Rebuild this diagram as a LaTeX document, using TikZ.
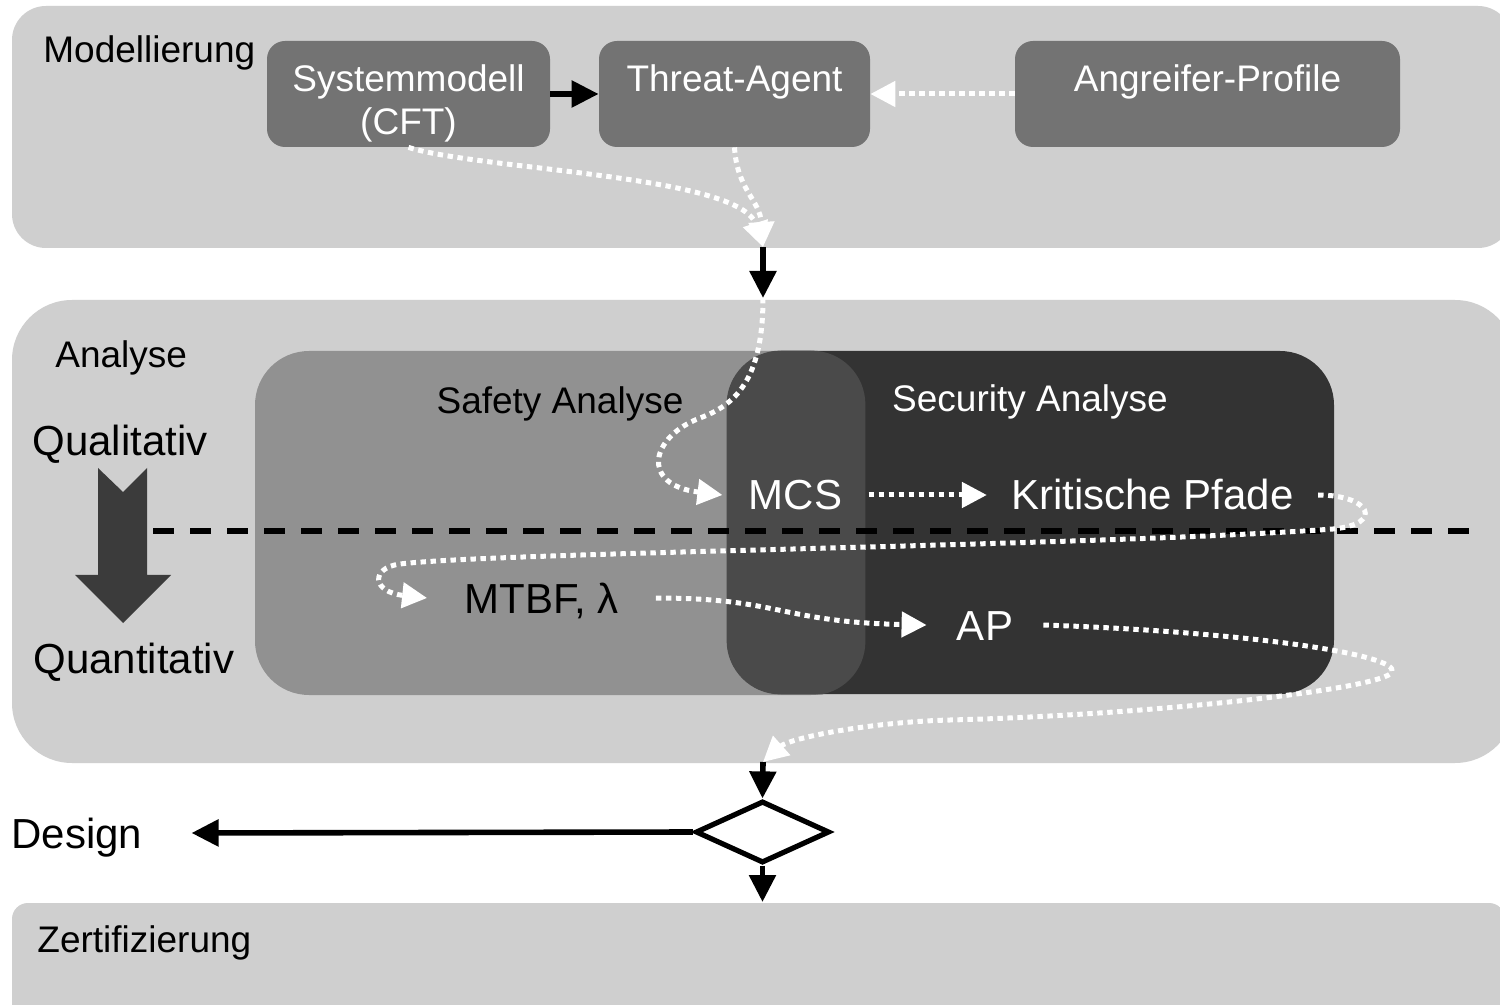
\documentclass[tikz,border=0pt]{standalone}
\usepackage{fontspec}
\setmainfont{Liberation Sans}
\usetikzlibrary{arrows.meta,shapes.geometric}
\definecolor{bandgray}{RGB}{207,207,207}
\definecolor{boxgray}{RGB}{115,115,115}
\definecolor{safegray}{RGB}{145,145,145}
\definecolor{secgray}{RGB}{51,51,51}
\definecolor{overgray}{RGB}{74,74,74}
\definecolor{arrowgray}{RGB}{59,59,59}
\begin{document}
\begin{tikzpicture}[x=0.5pt,y=-0.5pt,
  band/.style={fill=bandgray, draw=none, rectangle, inner sep=0pt},
  topbox/.style={fill=boxgray, draw=none, rectangle, rounded corners=9pt, inner sep=0pt, minimum height=53pt},
  anbox/.style={draw=none, rectangle, rounded corners=27pt, inner sep=0pt},
  normf/.style={font=\fontsize{18.5pt}{22pt}\selectfont, inner sep=0pt},
  bigf/.style={font=\fontsize{21pt}{25pt}\selectfont, inner ysep=0pt, inner xsep=0pt, text height=15pt, text depth=0pt},
  barrow/.style={draw=black, line width=2.8pt, -{Triangle[length=13.5pt,width=13pt]}},
  wdot/.style={draw=white, line width=2.5pt, dash pattern=on 2.7pt off 2.3pt, -{Triangle[length=12.5pt,width=12.5pt]}},
  divider/.style={draw=black, line width=3pt, dash pattern=on 10.5pt off 8pt},
]
\useasboundingbox (0,0) rectangle (1500,1005);
\clip (0,0) rectangle (1500,1005);
\fill[white] (0,0) rectangle (1500,1005);

% bands
\node[band, rounded corners=17pt, minimum width=750pt, minimum height=121pt] (b1) at (762,127) {};
\node[band, rounded corners=30pt, minimum width=751.5pt, minimum height=231.5pt] (b2) at (763.5,531.5) {};
\node[band, rounded corners=8pt, minimum width=746.5pt, minimum height=68.5pt] (b3) at (758.5,971.5) {};

% band 1
\node[normf, anchor=base west] (tmod) at (43,63) {Modellierung};
\node[topbox, minimum width=141.5pt] (sys) at (408.5,94) {};
\node[topbox, minimum width=135.5pt] (ta) at (734.5,94) {};
\node[topbox, minimum width=192.5pt] (ang) at (1207.5,94) {};
\node[normf, text=white, anchor=base] (tsys1) at (408.5,92) {Systemmodell};
\node[normf, text=white, anchor=base] (tsys2) at (408.5,135) {(CFT)};
\node[normf, text=white, anchor=base] (tta) at (734.5,92) {Threat-Agent};
\node[normf, text=white, anchor=base] (tang) at (1207.5,92) {Angreifer-Profile};

\coordinate (m1) at (763,247);
\coordinate (m2) at (763,298);
\coordinate (m3) at (763,762);
\coordinate (m4) at (762.5,902);

\draw[barrow] (sys) -- (ta);
\draw[wdot] (ang) -- (ta);
\draw[wdot] (sys.south) .. controls (480,170) and (740,175) .. (m1);
\draw[wdot] (ta.south) .. controls (737,190) and (760,200) .. (m1);
\draw[barrow] (m1) -- (m2);

% band 2
\node[anbox, fill=safegray, minimum width=305pt, minimum height=172pt] (safe) at (560,523) {};
\node[anbox, fill=secgray, minimum width=303.5pt, minimum height=171.5pt] (sec) at (1030.5,522.5) {};
\begin{scope}
  \clip[rounded corners=27pt] (sec.north west) rectangle (sec.south east);
  \fill[overgray, rounded corners=27pt] (safe.north west) rectangle (safe.south east);
\end{scope}

\node[normf, anchor=base west] (tana) at (55,368) {Analyse};
\node[normf, anchor=base] (tsafe) at (560,414) {Safety Analyse};
\node[normf, text=white, anchor=base] (tsec) at (1030,412) {Security Analyse};
\node[bigf, anchor=base west] (qual) at (32,456) {Qualitativ};
\node[bigf, anchor=base west] (quant) at (33,673) {Quantitativ};

\fill[arrowgray] (98,468) -- (123,492) -- (147,468) -- (147,575) -- (171,575) -- (123,623) -- (75,575) -- (98,575) -- cycle;

\coordinate (dl1) at (153,531);
\coordinate (dl2) at (1476,531);
\draw[divider] (dl1) -- (dl2);

\node[bigf, text=white, anchor=base, inner xsep=13pt] (mcs) at (795.5,510) {MCS};
\node[bigf, text=white, anchor=base, inner xsep=12pt] (kp) at (1152.5,510) {Kritische Pfade};
\node[bigf, anchor=base, inner xsep=18.5pt] (mtbf) at (541.5,613) {MTBF, λ};
\node[bigf, text=white, anchor=base, inner xsep=15pt] (ap) at (985,640) {AP};

\draw[wdot] (m2) .. controls (763,380) and (735,405) .. (700,418)
  .. controls (650,437) and (640,485) .. (mcs.west);
\draw[wdot] (mcs) -- (kp);
\draw[wdot] (kp.east) .. controls (1370,495) and (1385,524) .. (1333,529)
  .. controls (1100,546) and (500,552) .. (400,564)
  .. controls (370,568) and (372,592) .. (mtbf.west);
\draw[wdot] (mtbf.east) .. controls (780,598) and (780,622) .. (ap.west);
\draw[wdot] (ap.east) .. controls (1250,632) and (1400,655) .. (1392,672)
  .. controls (1384,689) and (1150,715) .. (950,720)
  .. controls (870,722) and (790,738) .. (m3);

% decision
\node[draw=black, line width=2.6pt, diamond, minimum width=67pt, minimum height=31pt, inner sep=0pt] (dia) at (762.5,832) {};
\node[bigf, anchor=base west] (design) at (11,848) {Design};
\draw[barrow] (m3) -- (dia.north);
\draw[barrow] (dia.south) -- (m4);
\draw[barrow] (dia.west) -- ([xshift=24.5pt]design.east);

% band 3
\node[normf, anchor=base west] (tzert) at (37,952) {Zertifizierung};
\end{tikzpicture}
\end{document}
